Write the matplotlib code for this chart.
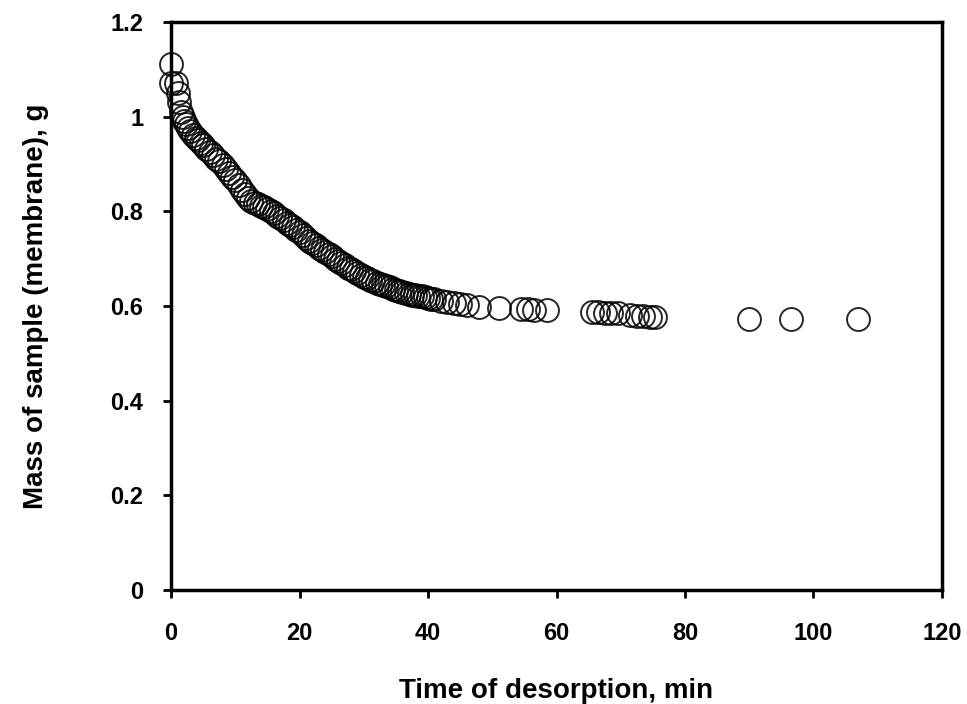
import matplotlib
matplotlib.use("Agg")
import matplotlib.pyplot as plt

# desorption data
time_min = [0, 0, 0.8, 1.0, 1.2, 1.5, 1.8, 2.0, 2.3, 2.6,
            3.0, 3.4, 3.8, 4.2, 4.6, 5.0, 5.5, 6.0, 6.5, 7.0,
            7.5, 8.0, 8.5, 9.0, 9.5, 10.0, 10.5, 11.0, 11.5, 12.0,
            12.5, 13.0, 13.5, 14.0, 14.5, 15.0, 15.5, 16.0, 16.5, 17.0,
            17.5, 18.0, 18.5, 19.0, 19.5, 20.0, 20.5, 21.0, 21.5, 22.0,
            22.5, 23.0, 23.5, 24.0, 24.5, 25.0, 25.5, 26.0, 26.5, 27.0,
            27.5, 28.0, 28.5, 29.0, 29.5, 30.0, 30.5, 31, 31.5, 32,
            32.5, 33, 33.5, 34, 34.5, 35, 35.5, 36, 36.5, 37,
            37.5, 38, 38.5, 39, 39.5, 40, 40.5, 41, 42, 43,
            44, 45, 46, 48, 51, 54.5, 55.5, 56.5, 58.5, 65.5,
            66.5, 67.5, 68.5, 69.5, 71.5, 72.5, 73.5, 74.5, 75.3, 90,
            96.5, 107]
mass_g = [1.11, 1.07, 1.07, 1.05, 1.03, 1.01, 1.00, 0.99, 0.985, 0.975,
          0.97, 0.962, 0.955, 0.95, 0.945, 0.94, 0.932, 0.925, 0.918, 0.91,
          0.905, 0.898, 0.89, 0.88, 0.872, 0.865, 0.855, 0.845, 0.836, 0.828,
          0.822, 0.818, 0.815, 0.812, 0.808, 0.805, 0.80, 0.796, 0.79, 0.786,
          0.781, 0.776, 0.771, 0.766, 0.761, 0.756, 0.75, 0.744, 0.738, 0.733,
          0.728, 0.723, 0.718, 0.713, 0.709, 0.705, 0.70, 0.695, 0.69, 0.686,
          0.681, 0.677, 0.673, 0.669, 0.665, 0.661, 0.658, 0.655, 0.652, 0.649,
          0.646, 0.644, 0.641, 0.639, 0.636, 0.634, 0.632, 0.630, 0.628, 0.626,
          0.624, 0.623, 0.621, 0.620, 0.618, 0.617, 0.615, 0.614, 0.611, 0.609,
          0.607, 0.605, 0.602, 0.598, 0.596, 0.594, 0.593, 0.592, 0.591, 0.588,
          0.587, 0.586, 0.585, 0.584, 0.580, 0.579, 0.578, 0.577, 0.576, 0.573,
          0.573, 0.573]

xticks = [0, 20, 40, 60, 80, 100, 120]
yticks = [0, 0.2, 0.4, 0.6, 0.8, 1.0, 1.2]
ytick_labels = ["0", "0.2", "0.4", "0.6", "0.8", "1", "1.2"]

plt.rcParams["font.family"] = ["Liberation Sans", "DejaVu Sans"]
plt.rcParams["font.weight"] = "bold"

fig = plt.figure(figsize=(9.67, 7.04), dpi=100)
ax = fig.add_axes([0.177, 0.162, 0.797, 0.807])

ax.plot(time_min, mass_g, linestyle="", marker="o", markersize=16.5,
        markerfacecolor="none", markeredgecolor="black",
        markeredgewidth=1.4, alpha=0.85, clip_on=False)

ax.set_xlim(0, 120)
ax.set_ylim(0, 1.2)
ax.set_xticks(xticks)
ax.set_yticks(yticks)
ax.set_yticklabels(ytick_labels)

for sp in ax.spines.values():
    sp.set_linewidth(2.5)
    sp.set_color("black")

ax.tick_params(axis="both", direction="out", length=6, width=2,
               labelsize=17)
ax.tick_params(axis="x", pad=17)
ax.tick_params(axis="y", pad=14)

ax.set_xlabel("Time of desorption, min", fontsize=20, fontweight="bold",
              labelpad=24)
ax.set_ylabel("Mass of sample (membrane), g", fontsize=20,
              fontweight="bold", labelpad=44)

plt.savefig("out.png", dpi=100)
plt.close()
